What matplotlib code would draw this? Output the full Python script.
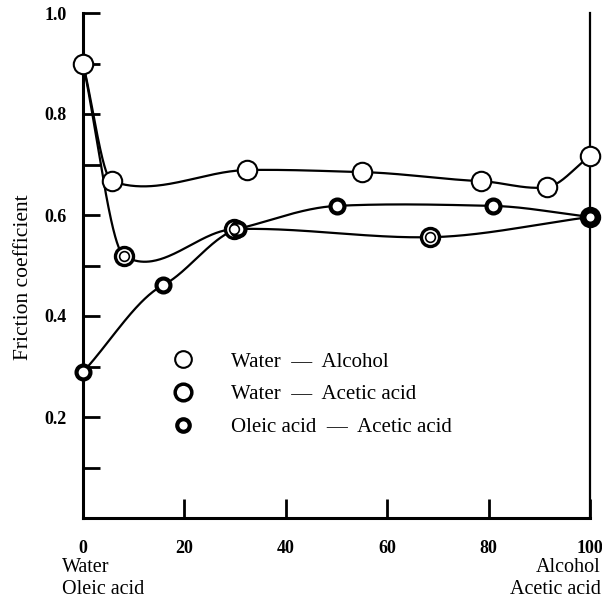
import numpy as np
import matplotlib
matplotlib.use("Agg")
import matplotlib.pyplot as plt
from matplotlib.lines import Line2D

plt.rcParams['font.family'] = ['Liberation Serif', 'DejaVu Serif']

# Data (x = composition %, y = friction coefficient)
wa_x = [0, 5.7, 32.3, 55, 78.5, 91.5, 100]
wa_y = [0.90, 0.667, 0.689, 0.685, 0.667, 0.655, 0.717]

wac_x = [0, 8.1, 29.8, 68.4, 100]
wac_y = [0.90, 0.519, 0.572, 0.556, 0.596]

oa_x = [0, 15.8, 30.5, 50, 80.9, 100]
oa_y = [0.289, 0.461, 0.572, 0.618, 0.618, 0.596]

labels = ["Water  —  Alcohol", "Water  —  Acetic acid", "Oleic acid  —  Acetic acid"]
xticks = [0, 20, 40, 60, 80, 100]
yticks = [0.2, 0.4, 0.6, 0.8, 1.0]
yticklabels = ["0.2", "0.4", "0.6", "0.8", "1.0"]
xticklabels = ["0", "20", "40", "60", "80", "100"]


def smooth(x, y, tension=0.55, n=80):
    x = np.asarray(x, float)
    y = np.asarray(y, float)
    m = np.zeros_like(y)
    for i in range(len(x)):
        if i == 0:
            m[i] = (y[1] - y[0]) / (x[1] - x[0])
        elif i == len(x) - 1:
            m[i] = (y[-1] - y[-2]) / (x[-1] - x[-2])
        else:
            m[i] = tension * (y[i + 1] - y[i - 1]) / (x[i + 1] - x[i - 1])
    xs, ys = [], []
    for i in range(len(x) - 1):
        h = x[i + 1] - x[i]
        t = np.linspace(0, 1, n)
        h00 = 2 * t**3 - 3 * t**2 + 1
        h10 = t**3 - 2 * t**2 + t
        h01 = -2 * t**3 + 3 * t**2
        h11 = t**3 - t**2
        xs.append(x[i] + t * h)
        ys.append(h00 * y[i] + h10 * h * m[i] + h01 * y[i + 1] + h11 * h * m[i + 1])
    return np.concatenate(xs), np.concatenate(ys)


fig = plt.figure(figsize=(6.02, 5.98), dpi=100)
ax = fig.add_axes([83 / 602, 80 / 598, 507 / 602, 505 / 598])
ax.set_xlim(0, 100)
ax.set_ylim(0, 1.0)

lw = 1.6
for xx, yy in [(wa_x, wa_y), (wac_x, wac_y), (oa_x, oa_y)]:
    sx, sy = smooth(xx, yy)
    ax.plot(sx, sy, color='black', lw=lw, zorder=2, clip_on=False)

# markers
ax.plot(wa_x, wa_y, 'o', ms=14, mfc='white', mec='black', mew=1.5, zorder=3, clip_on=False)
ax.plot(wac_x[1:], wac_y[1:], 'o', ms=13, mfc='white', mec='black', mew=2.4, zorder=3, clip_on=False)
ax.plot(wac_x[1:], wac_y[1:], 'o', ms=7, mfc='white', mec='black', mew=1.2, zorder=4, clip_on=False)
ax.plot(oa_x, oa_y, 'o', ms=10, mfc='white', mec='black', mew=3, zorder=3, clip_on=False)

# spines
ax.spines['top'].set_visible(False)
for s in ['left', 'bottom']:
    ax.spines[s].set_linewidth(2.2)
ax.spines['right'].set_linewidth(1.6)

ax.set_xticks(xticks)
ax.set_xticklabels(xticklabels)
ax.set_yticks(yticks)
ax.set_yticklabels(yticklabels)
ax.set_yticks([0.1, 0.3, 0.5, 0.7, 0.9], minor=True)
ax.tick_params(axis='both', which='both', direction='in', width=2, labelsize=13)
ax.tick_params(axis='x', length=14, pad=16)
ax.tick_params(axis='y', which='major', length=12, pad=12)
ax.tick_params(axis='y', which='minor', length=12)
ax.tick_params(axis='y', right=False)
for t in ax.get_xticklabels() + ax.get_yticklabels():
    t.set_fontweight('bold')

ax.set_ylabel("Friction coefficient", fontsize=15.5)
ax.yaxis.set_label_coords(-0.098, 0.477)

fig.text(62 / 602, 1 - 568 / 598, "Water", ha='left', va='center', fontsize=14.5)
fig.text(62 / 602, 1 - 590 / 598, "Oleic acid", ha='left', va='center', fontsize=14.5)
fig.text(601 / 602, 1 - 568 / 598, "Alcohol", ha='right', va='center', fontsize=14.5)
fig.text(601 / 602, 1 - 590 / 598, "Acetic acid", ha='right', va='center', fontsize=14.5)

h1 = Line2D([], [], ls='none', marker='o', ms=12, mfc='white', mec='black', mew=1.5)
h2 = Line2D([], [], ls='none', marker='o', ms=12, mfc='white', mec='black', mew=2.5)
h3 = Line2D([], [], ls='none', marker='o', ms=9, mfc='white', mec='black', mew=3)
leg = ax.legend([h1, h2, h3], labels, loc='upper left', bbox_to_anchor=(0.146, 0.349),
                frameon=False, fontsize=15, handletextpad=1.55, labelspacing=0.63,
                borderpad=0, handlelength=1.5)

fig.savefig("out.png", dpi=100, facecolor='white')
